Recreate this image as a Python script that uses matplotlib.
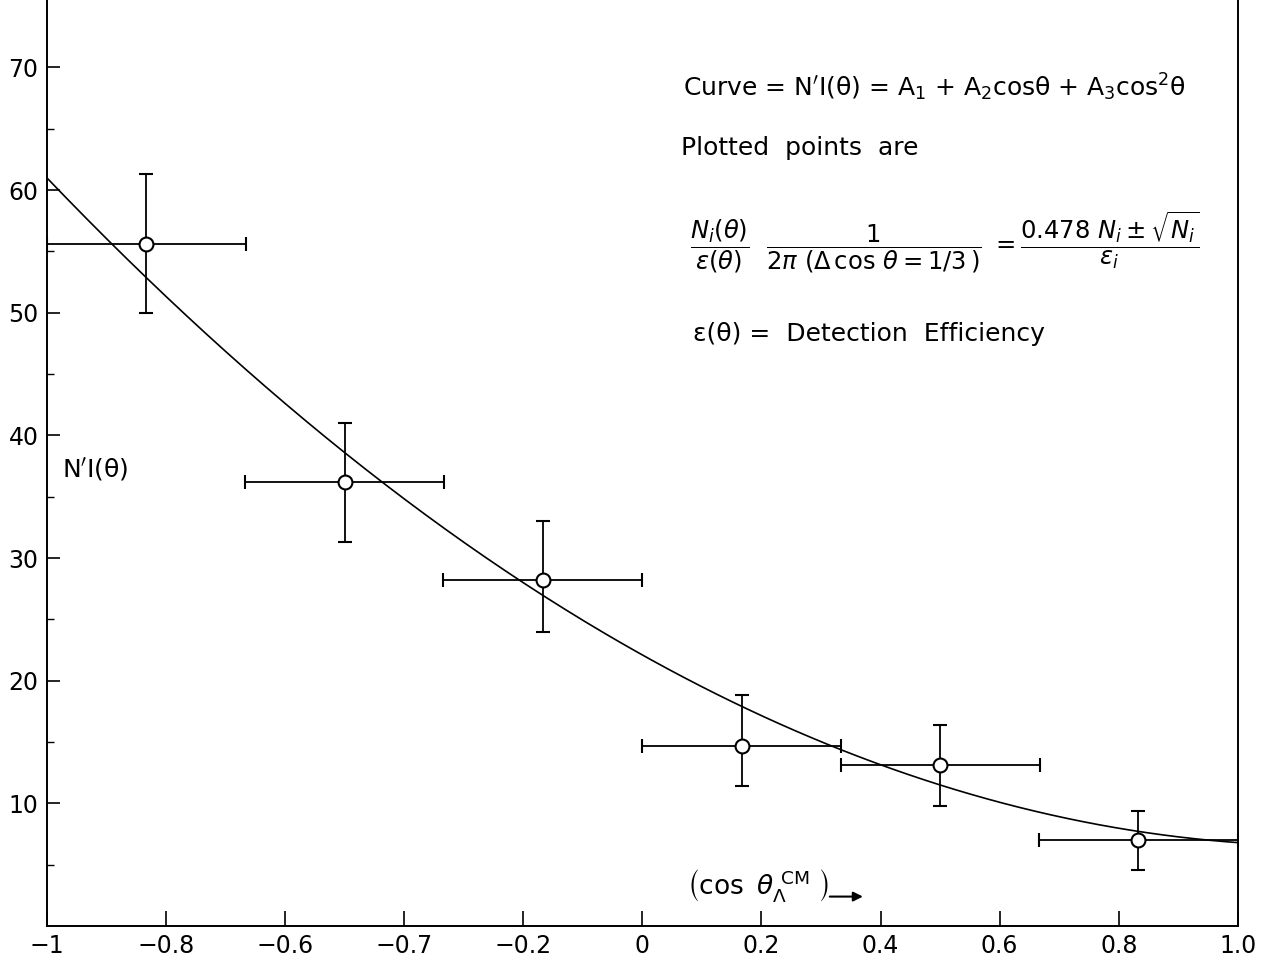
import numpy as np
import matplotlib.pyplot as plt
from matplotlib.ticker import FixedLocator

# dati
x_bin = [-0.833, -0.5, -0.167, 0.167, 0.5, 0.833]
x_halfwidth = [0.167, 0.167, 0.167, 0.167, 0.167, 0.167]
y_val = [55.6, 36.2, 28.2, 14.7, 13.1, 7.0]
y_up = [61.3, 41.0, 33.0, 18.8, 16.4, 9.4]
y_low = [50.0, 31.3, 24.0, 11.4, 9.8, 4.6]

# coefficienti della curva A1 + A2 cos + A3 cos^2
A1, A2, A3 = 22.1, -27.1, 11.8

x_ticks = [-1, -0.8, -0.6, -0.4, -0.2, 0, 0.2, 0.4, 0.6, 0.8, 1.0]
x_ticklabels = ['−1', '−0.8', '−0.6', '−0.7', '−0.2', '0', '0.2', '0.4', '0.6', '0.8', '1.0']
y_ticks = [10, 20, 30, 40, 50, 60, 70]
y_minor = [5, 15, 25, 35, 45, 55, 65]

plt.rcParams['font.family'] = 'DejaVu Sans'
plt.rcParams['mathtext.fontset'] = 'dejavusans'

fig = plt.figure(figsize=(12.67, 9.61), dpi=100)
ax = fig.add_axes([0.037, 0.0364, 0.94, 0.9636])

# curva
xc = np.linspace(-1, 1, 300)
ax.plot(xc, A1 + A2 * xc + A3 * xc ** 2, color='black', lw=1.2)

# punti con barre d'errore
y_val = np.array(y_val)
yerr = [y_val - np.array(y_low), np.array(y_up) - y_val]
ax.errorbar(x_bin, y_val, xerr=x_halfwidth, yerr=yerr, fmt='o', ms=10,
            mfc='white', mec='black', mew=1.5, ecolor='black', elinewidth=1.3,
            capsize=5, capthick=1.3, zorder=3)

ax.set_xlim(-1, 1.0)
ax.set_ylim(0, 75.5)

ax.set_xticks(x_ticks)
ax.set_xticklabels(x_ticklabels)
ax.set_yticks(y_ticks)
ax.yaxis.set_minor_locator(FixedLocator(y_minor))
ax.tick_params(axis='both', which='both', direction='in', labelsize=17, width=1.2)
ax.tick_params(axis='y', which='major', length=9, pad=6)
ax.tick_params(axis='y', which='minor', length=5, width=1.0)
ax.tick_params(axis='x', length=11, pad=6)
ax.spines['top'].set_visible(False)
for s in ['left', 'right', 'bottom']:
    ax.spines[s].set_linewidth(1.4)

# etichette degli assi dentro il grafico
ax.text(-0.975, 37.2, "N$'$I(θ)", fontsize=18, ha='left', va='center')
ax.text(0.075, 3.3, r"$\left(\cos\ \theta_{\Lambda}^{\ \mathrm{CM}}\ \right)$",
        fontsize=19, ha='left', va='center')
ax.annotate('', xy=(0.375, 2.4), xytext=(0.31, 2.4),
            arrowprops=dict(arrowstyle='-|>', color='black', lw=1.5,
                            mutation_scale=14))

# testo descrittivo
ax.text(0.068, 68.4,
        r"Curve = N$'$I(θ) = A$_1$ + A$_2$cosθ + A$_3$cos$^2$θ",
        fontsize=18, ha='left', va='center')
ax.text(0.065, 63.4, "Plotted  points  are", fontsize=18, ha='left', va='center')
ax.text(0.08, 55.7,
        r"$\dfrac{N_i(\theta)}{\epsilon(\theta)}\ \ \dfrac{1}{2\pi\ (\Delta\,\cos\,\theta = 1/3\,)}"
        r"\ = \dfrac{0.478\ N_i \pm \sqrt{N_i}}{\epsilon_i}$",
        fontsize=17.5, ha='left', va='center')
ax.text(0.085, 48.3, "ε(θ) =  Detection  Efficiency", fontsize=18,
        ha='left', va='center')

fig.savefig('out.png', dpi=100)
